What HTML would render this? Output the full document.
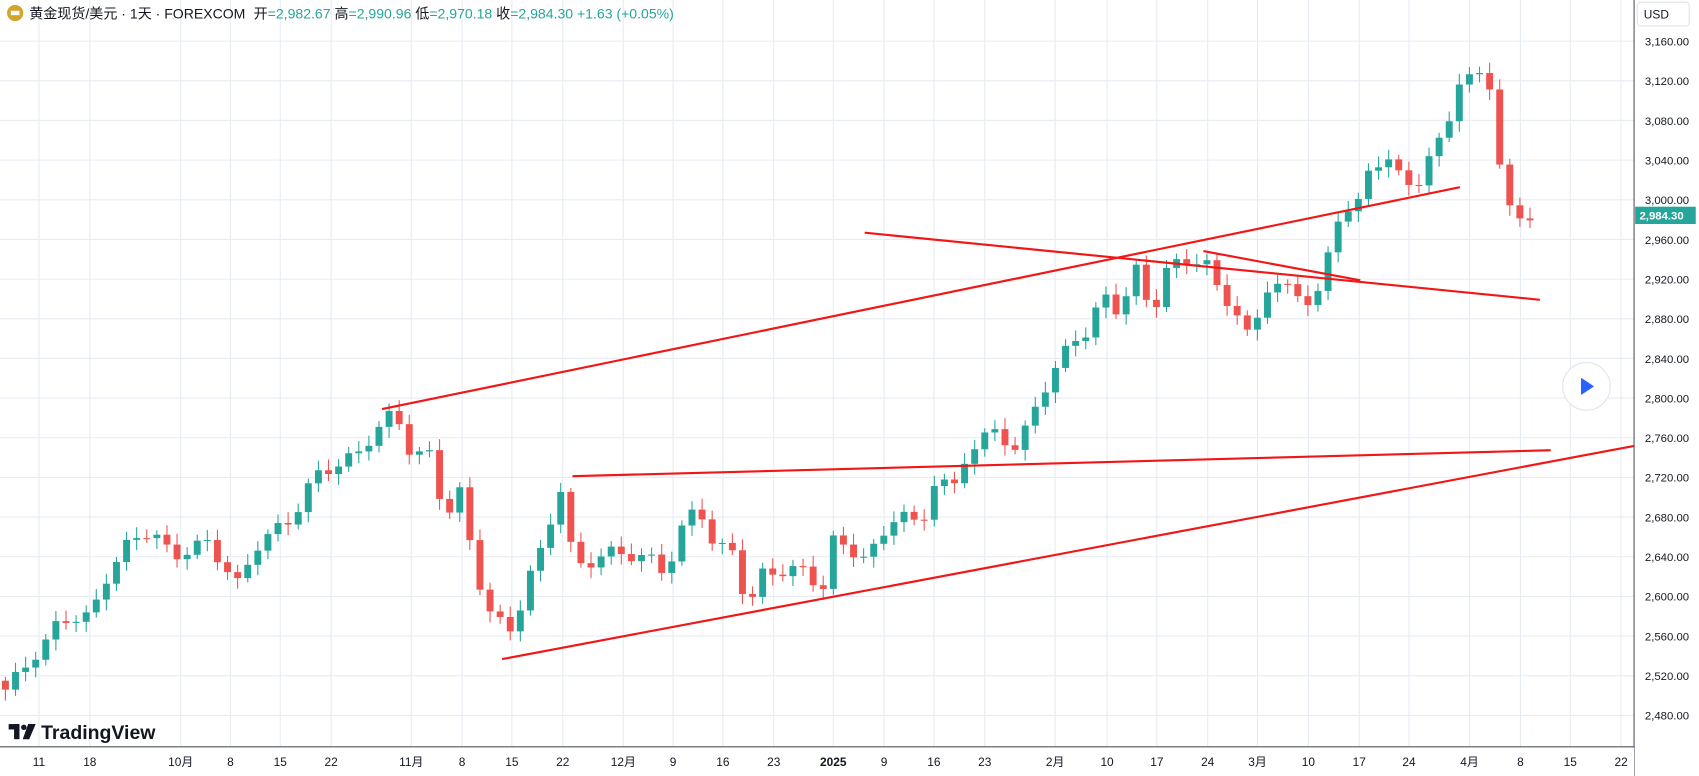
<!DOCTYPE html>
<html><head><meta charset="utf-8"><style>
html,body{margin:0;padding:0;background:#fff;overflow:hidden}
svg{display:block}
text{font-family:"Liberation Sans","Noto Sans CJK SC",sans-serif}
</style></head><body>
<svg id="s" width="1699" height="776" viewBox="0 0 1570 717" preserveAspectRatio="none" xmlns="http://www.w3.org/2000/svg"></svg>
<script>
const s=document.getElementById('s');
let h='';
const Y=p=>38+(3160-p)*0.9162;
// grid
const xl=[[36,'11'],[83,'18'],[167,'10月'],[213,'8'],[259,'15'],[306,'22'],[380,'11月'],[427,'8'],[473,'15'],[520,'22'],[576,'12月'],[622,'9'],[668,'16'],[715,'23'],[770,'2025'],[817,'9'],[863,'16'],[910,'23'],[975,'2月'],[1023,'10'],[1069,'17'],[1116,'24'],[1162,'3月'],[1209,'10'],[1256,'17'],[1302,'24'],[1358,'4月'],[1405,'8'],[1451,'15'],[1498,'22']];
for(const [x] of xl)h+=`<line x1="${x}" y1="0" x2="${x}" y2="690" stroke="#e6ecf2" stroke-width="1"/>`;
for(let p=2480;p<=3160;p+=40){const y=Y(p);h+=`<line x1="0" y1="${y}" x2="1510" y2="${y}" stroke="#e6ecf2"/>`;
h+=`<text x="1520" y="${y+4}" font-size="10.5" fill="#131722">${p.toLocaleString('en-US')}.00</text>`;}
// candles
const wp=[[5,2506],[45,2557],[55,2577],[83,2579],[100,2623],[120,2656],[140,2667],[160,2639],[190,2656],[220,2612],[240,2656],[270,2678],[290,2721],[310,2732],[330,2743],[352,2773],[365,2787],[380,2743],[400,2743],[410,2678],[425,2705],[440,2623],[455,2579],[475,2563],[485,2612],[500,2645],[520,2716],[530,2628],[545,2634],[560,2645],[600,2639],[615,2623],[630,2667],[645,2694],[660,2650],[680,2645],[690,2585],[705,2623],[740,2628],[760,2607],[770,2656],[800,2639],[810,2650],[830,2688],[850,2667],[865,2721],[880,2705],[890,2738],[905,2754],[920,2770],[940,2743],[955,2792],[975,2825],[990,2863],[1005,2863],[1020,2907],[1035,2885],[1050,2929],[1065,2885],[1080,2934],[1100,2940],[1115,2934],[1125,2912],[1140,2890],[1155,2858],[1170,2912],[1185,2912],[1200,2907],[1215,2890],[1225,2934],[1235,2983],[1255,2994],[1265,3032],[1280,3043],[1295,3021],[1310,3016],[1330,3060],[1340,3087],[1350,3123],[1360,3120],[1370,3131],[1378,3114],[1385,3038],[1395,2989],[1405,2984],[1415,2984]];
function interp(x){for(let i=1;i<wp.length;i++){if(x<=wp[i][0]){const a=wp[i-1],b=wp[i];return a[1]+(b[1]-a[1])*(x-a[0])/(b[0]-a[0]);}}return 2984;}
let prev=2515;
for(let i=0;i<152;i++){const x=5+i*9.33;if(x>1416)break;
let c=interp(x)+6*Math.sin(i*1.7);const o=prev;prev=c;
const up=c>=o;const col=up?'#26a69a':'#ef5350';
const hi=Math.max(o,c)+4+7*Math.abs(Math.sin(i*2.3)),lo=Math.min(o,c)-4-7*Math.abs(Math.cos(i*1.9));
h+=`<line x1="${x}" y1="${Y(hi)}" x2="${x}" y2="${Y(lo)}" stroke="${col}" stroke-width="1"/>`;
const t=Y(Math.max(o,c)),b=Y(Math.min(o,c));
h+=`<rect x="${x-3.2}" y="${t}" width="6.4" height="${Math.max(1,b-t)}" fill="${col}"/>`;}
// trend lines
const tl=[[353,378,1349,173],[799,215,1423,277],[1112,232,1257,259],[529,440,1433,416],[464,609,1510,412]];
for(const l of tl)h+=`<line x1="${l[0]}" y1="${l[1]}" x2="${l[2]}" y2="${l[3]}" stroke="#f21616" stroke-width="2"/>`;
// axes
h+=`<rect x="1510" y="0" width="60" height="717" fill="#fff"/>`;
for(let p=2480;p<=3160;p+=40){const y=Y(p);h+=`<text x="1520" y="${y+4}" font-size="10.5" fill="#131722">${p.toLocaleString('en-US')}.00</text>`;}
h+=`<line x1="1510" y1="0" x2="1510" y2="717" stroke="#50535e"/>`;
h+=`<line x1="0" y1="690" x2="1510" y2="690" stroke="#50535e"/>`;
h+=`<rect x="0" y="691" width="1510" height="26" fill="#fff"/>`;
for(const [x,t] of xl)h+=`<text x="${x}" y="708" font-size="11" fill="#131722" text-anchor="middle" ${t=='2025'?'font-weight="bold"':''}>${t}</text>`;
h+=`<rect x="1513" y="2" width="48" height="22" rx="3" fill="#fff" stroke="#e0e3eb"/><text x="1519" y="17" font-size="11" fill="#131722">USD</text>`;
h+=`<rect x="1511" y="${Y(2984.3)-8}" width="56" height="16" fill="#26a69a"/><text x="1515" y="${Y(2984.3)+4}" font-size="10.5" fill="#fff" font-weight="bold">2,984.30</text>`;
// play button
h+=`<circle cx="1466" cy="357" r="22" fill="#fff" stroke="#e0e3eb"/><polygon points="1461,349 1461,365 1473,357" fill="#2962ff"/>`;
// header
h+=`<circle cx="14" cy="12" r="7.5" fill="#d4a52c"/><rect x="10" y="10" width="8" height="4" fill="#fff"/>`;
h+=`<text x="27" y="17" font-size="13" fill="#131722">黄金现货/美元 · 1天 · FOREXCOM <tspan dx="4">开</tspan><tspan fill="#26a69a">=2,982.67</tspan> 高<tspan fill="#26a69a">=2,990.96</tspan> 低<tspan fill="#26a69a">=2,970.18</tspan> 收<tspan fill="#26a69a">=2,984.30 +1.63 (+0.05%)</tspan></text>`;
// logo
h+=`<rect x="8" y="669" width="10" height="5" fill="#131722"/><rect x="13" y="669" width="5" height="14" fill="#131722"/><circle cx="22" cy="672" r="2.5" fill="#131722"/><polygon points="26,669 33,669 27,683 21,683" fill="#131722"/>`;
h+=`<text x="38" y="683" font-size="18" font-weight="bold" fill="#131722">TradingView</text>`;
s.innerHTML=h;
</script>
</body></html>
